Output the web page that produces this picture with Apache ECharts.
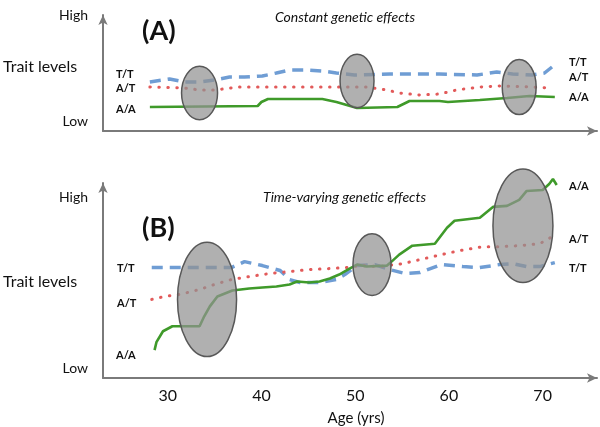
<!DOCTYPE html>
<html><head><meta charset="utf-8">
<script src="https://cdn.jsdelivr.net/npm/echarts@6/dist/echarts.min.js"></script>
<style>html,body{margin:0;padding:0;background:#fff}#c{width:600px;height:427px}</style>
</head><body><div id="c"></div>
<script>
// Panel A: constant genetic effects  [age (yrs), trait level]
const aTT = [[28.1,49],[30.2,52],[31.8,49],[33.4,49],[35.0,51],[36.6,54],[38.2,54],[40.1,55],[41.6,58],[43.0,61],[44.8,61],[46.5,60],[48.0,58],[49.9,56],[53.7,57],[59.0,57],[63.0,56],[65.1,59],[66.8,57],[68.9,56],[70.2,58],[71.0,64]];
const aAT = [[28.1,44],[31.8,43],[33.4,41],[35.0,41],[37.7,44],[44.1,44],[51.2,44],[53.4,41],[54.7,38],[56.9,36],[59.0,37],[60.8,41],[63.3,44],[65.4,45],[68.9,44],[70.7,43]];
const aAA = [[28.1,24],[39.6,25],[40.0,29],[40.7,32],[46.5,32],[48.0,29],[49.1,26],[50.2,23],[54.5,24],[55.8,30],[59.0,30],[59.9,29],[63.3,31],[66.2,33],[68.6,35],[71.3,34]];
// Panel B: time-varying genetic effects
const bTT = [[28.3,111],[36.8,111],[38.2,117],[40.1,113],[42.0,108],[43.0,99],[44.1,96],[46.2,96],[48.0,99],[48.9,104],[50.2,113],[52.1,114],[53.7,109],[55.3,105],[56.9,106],[59.2,114],[61.5,112],[63.3,111],[65.4,114],[66.8,115],[68.3,112],[69.7,112],[71.3,116]];
const bAT = [[28.3,79],[29.7,82],[31.3,84],[33.4,89],[35.0,94],[36.8,99],[38.7,102],[40.9,105],[43.0,107],[45.1,109],[47.3,110],[49.1,111],[50.5,113],[52.6,112],[55.1,115],[56.9,119],[59.2,124],[61.1,128],[63.6,132],[65.4,132],[67.5,133],[69.7,135],[71.0,142]];
const bAA = [[28.6,28],[28.8,36],[29.5,47],[30.5,52],[33.4,52],[33.9,62],[34.5,72],[35.3,82],[36.9,88],[38.7,90],[40.1,91],[41.6,92],[43.0,94],[43.8,97],[45.1,96],[46.2,97],[47.3,100],[48.3,104],[49.4,110],[50.2,114],[51.2,112],[53.4,113],[54.0,118],[54.7,124],[56.1,133],[58.5,135],[59.8,151],[60.6,158],[63.3,161],[64.7,172],[66.2,173],[67.5,179],[68.3,188],[70.0,189],[70.7,195],[71.1,200],[71.5,194]];
// highlighted age windows: [centre age, centre level, half-width (yrs), half-height (level)]
const aWindows = [[33.4,38,1.92,26.7],[50.2,50,1.81,26.7],[67.5,44,1.81,27.6]];
const bWindows = [[34.2,79,3.15,57.5],[51.8,114,2.03,31],[67.9,153,3.2,57]];
const ageTicks = [30,40,50,60,70];
const genotypes = ['T/T','A/T','A/A'];

const chart = echarts.init(document.getElementById('c'));
const FONT = 'Lato, "Open Sans", sans-serif';
const axisCol = '#7a7a7a';
const blue = '#6f9dd4', red = '#e25a5a', green = '#3f9a2a';

function xAxis(idx, showLabels) {
  return {
    type:'value', gridIndex:idx, min:23.1, max:75.8,
    axisLine:{show:true, lineStyle:{color:axisCol, width:2}, symbol:['none','arrow'], symbolSize:[7,10]},
    axisTick:{show:false}, splitLine:{show:false},
    axisLabel: showLabels ? {customValues:ageTicks, color:'#111', fontSize:16, fontFamily:FONT, margin:10} : {show:false},
    name: showLabels ? 'Age (yrs)' : '', nameLocation:'middle', nameGap:33,
    nameTextStyle:{color:'#111', fontSize:15, fontFamily:FONT, padding:[0,0,0,12]}
  };
}
function yAxis(idx, max) {
  return {
    type:'value', gridIndex:idx, min:0, max:max,
    axisLine:{show:true, lineStyle:{color:axisCol, width:2}, symbol:['none','arrow'], symbolSize:[7,10]},
    axisTick:{show:false}, splitLine:{show:false}, axisLabel:{show:false}
  };
}
function line(data, idx, kind) {
  const ls = kind==='TT' ? {color:blue, width:3.5, type:[11,7]} :
             kind==='AT' ? {color:red, width:3, type:[0.5,8.5], cap:'round'} :
                           {color:green, width:2.6};
  return {type:'line', xAxisIndex:idx, yAxisIndex:idx, data:data, showSymbol:false, symbol:'none',
          lineStyle:ls, clip:false, z:2, animation:false};
}
function windows(data, idx) {
  return {
    type:'custom', xAxisIndex:idx, yAxisIndex:idx, data:data, z:5, clip:false, animation:false,
    encode:{x:0, y:1},
    renderItem:function(params, api){
      const c = api.coord([api.value(0), api.value(1)]);
      const s = api.size([api.value(2), api.value(3)]);
      return {type:'ellipse', shape:{cx:c[0], cy:c[1], rx:s[0], ry:s[1]},
              style:{fill:'rgba(145,145,145,0.72)', stroke:'#585858', lineWidth:1.5}};
    }
  };
}
function txt(text, x, y, opt) {
  opt = opt || {};
  return {type:'text', z:10, style:{text:text, x:x, y:y, fill:'#111',
    font:(opt.style||'') + ' ' + (opt.weight||'normal') + ' ' + (opt.size||13) + 'px ' + FONT,
    align:opt.align||'left', verticalAlign:'middle'}};
}
const gl = {size:11, weight:'bold'};
chart.setOption({
  animation:false,
  grid:[{left:103, right:3, top:15, height:116},{left:103, right:3, top:183, bottom:48}],
  xAxis:[xAxis(0,false), xAxis(1,true)],
  yAxis:[yAxis(0,116), yAxis(1,196)],
  series:[
    line(aTT,0,'TT'), line(aAT,0,'AT'), line(aAA,0,'AA'),
    line(bTT,1,'TT'), line(bAT,1,'AT'), line(bAA,1,'AA'),
    windows(aWindows,0), windows(bWindows,1)
  ],
  graphic:[
    txt('High',88,15,{align:'right',size:14}),
    txt('Trait levels',3,67,{size:16}),
    txt('Low',88,121,{align:'right',size:14}),
    txt('(A)',142,31,{size:27,weight:'bold'}),
    txt('Constant genetic effects',275,17,{size:14,style:'italic'}),
    txt(genotypes[0],116,74,gl), txt(genotypes[1],116,88,gl), txt(genotypes[2],116,109,gl),
    txt(genotypes[0],569,62,gl), txt(genotypes[1],569,77,gl), txt(genotypes[2],569,97,gl),
    txt('High',88,197,{align:'right',size:14}),
    txt('Trait levels',3,282,{size:16}),
    txt('Low',88,368,{align:'right',size:14}),
    txt('(B)',142,228,{size:27,weight:'bold'}),
    txt('Time-varying genetic effects',263,197,{size:14,style:'italic'}),
    txt(genotypes[0],117,268,gl), txt(genotypes[1],117,303,gl), txt(genotypes[2],116,355,gl),
    txt(genotypes[2],569,186,gl), txt(genotypes[1],569,239,gl), txt(genotypes[0],569,268,gl)
  ]
});
</script></body></html>
